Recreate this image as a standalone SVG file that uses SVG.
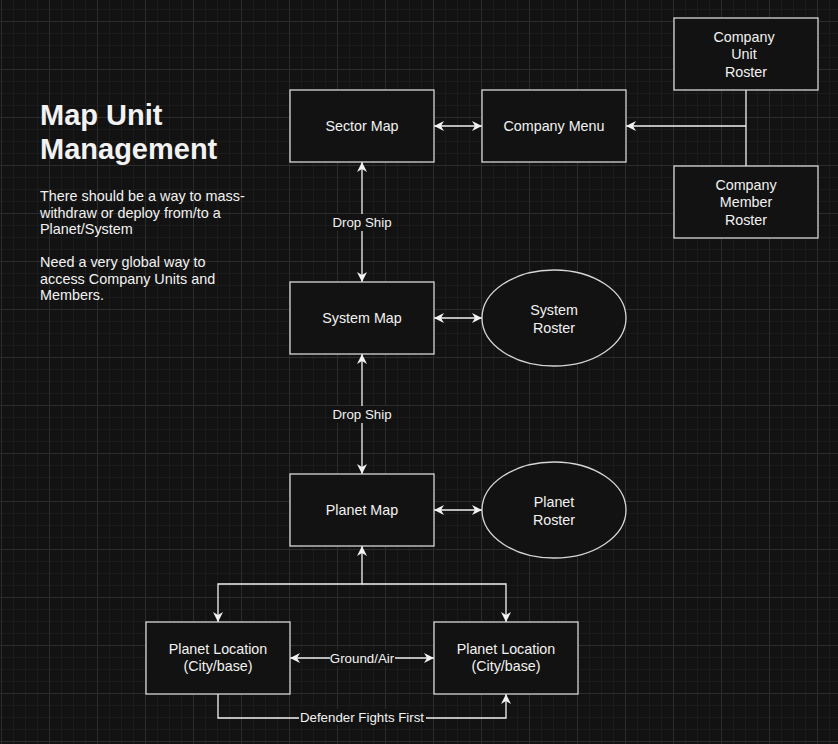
<svg xmlns="http://www.w3.org/2000/svg" width="838" height="744" viewBox="0 0 838 744">
<style>
.node rect, .node ellipse { fill:#121212; stroke:#d6d6d6; stroke-width:1.3; }
.node text { fill:#f2f2f2; font-family:"Liberation Sans", Arial, sans-serif; font-size:14.3px; text-anchor:middle; }
.edge { fill:none; stroke:#f2f2f2; stroke-width:1.3; }
.lbl rect { fill:#121212; }
.lbl text { fill:#f2f2f2; font-family:"Liberation Sans", Arial, sans-serif; font-size:13.3px; text-anchor:middle; }
.note { fill:#f2f2f2; font-family:"Liberation Sans", Arial, sans-serif; }
</style>
<defs>
<pattern id="minor" x="1" y="21" width="12" height="12" patternUnits="userSpaceOnUse">
<rect x="0" y="0" width="12" height="1" fill="#1b1b1b"/>
<rect x="0" y="0" width="1" height="12" fill="#1b1b1b"/>
</pattern>
<pattern id="major" x="1" y="21" width="48" height="48" patternUnits="userSpaceOnUse">
<rect x="0" y="0" width="48" height="1" fill="#2c2c2c"/>
<rect x="0" y="0" width="1" height="48" fill="#2c2c2c"/>
</pattern>
<marker id="arr" viewBox="-11 -6 12 12" refX="0" refY="0" markerWidth="12" markerHeight="12" markerUnits="userSpaceOnUse" orient="auto-start-reverse">
<path d="M0,0 L-10,-5 L-7,0 L-10,5 Z" fill="#f2f2f2"/>
</marker>
</defs>
<rect width="838" height="744" fill="#121212"/>
<rect width="838" height="744" fill="url(#minor)"/>
<rect width="838" height="744" fill="url(#major)"/>

<g id="connectors">
<path class="edge" d="M434,126 H482" marker-start="url(#arr)" marker-end="url(#arr)"/>
<path class="edge" d="M746,90 V166"/>
<path class="edge" d="M746,126 H626" marker-end="url(#arr)"/>
<path class="edge" d="M362,162 V282" marker-start="url(#arr)" marker-end="url(#arr)"/>
<path class="edge" d="M362,354 V474" marker-start="url(#arr)" marker-end="url(#arr)"/>
<path class="edge" d="M434,318 H482" marker-start="url(#arr)" marker-end="url(#arr)"/>
<path class="edge" d="M434,510 H482" marker-start="url(#arr)" marker-end="url(#arr)"/>
<path class="edge" d="M218,622 V584 H362 V546" marker-start="url(#arr)" marker-end="url(#arr)"/>
<path class="edge" d="M506,622 V584 H362" marker-start="url(#arr)"/>
<path class="edge" d="M290,658 H434" marker-start="url(#arr)" marker-end="url(#arr)"/>
<path class="edge" d="M218,694 V718 H506 V694" marker-end="url(#arr)"/>
<g class="lbl">
<rect x="332" y="214" width="60" height="17"/>
<text x="362" y="226.5">Drop Ship</text>
<rect x="332" y="406" width="60" height="17"/>
<text x="362" y="418.5">Drop Ship</text>
<rect x="330" y="650" width="65" height="16"/>
<text x="362" y="662.5">Ground/Air</text>
<rect x="299" y="709" width="127" height="16"/>
<text x="362" y="721.5">Defender Fights First</text>
</g>
</g>

<g id="sector-map" class="node">
<rect x="290" y="90" width="144" height="72"/>
<text x="362" y="131">Sector Map</text>
</g>
<g id="company-menu" class="node">
<rect x="482" y="90" width="144" height="72"/>
<text x="554" y="131">Company Menu</text>
</g>
<g id="company-unit-roster" class="node">
<rect x="674" y="18" width="144" height="72"/>
<text x="744" y="42">Company</text>
<text x="744" y="59">Unit</text>
<text x="746" y="76.5">Roster</text>
</g>
<g id="company-member-roster" class="node">
<rect x="674" y="166" width="144" height="72"/>
<text x="746" y="190">Company</text>
<text x="746" y="207">Member</text>
<text x="746" y="224.5">Roster</text>
</g>
<g id="system-map" class="node">
<rect x="290" y="282" width="144" height="72"/>
<text x="362" y="323">System Map</text>
</g>
<g id="system-roster" class="node">
<ellipse cx="554" cy="318" rx="72" ry="48"/>
<text x="554" y="315">System</text>
<text x="554" y="332.5">Roster</text>
</g>
<g id="planet-map" class="node">
<rect x="290" y="474" width="144" height="72"/>
<text x="362" y="515">Planet Map</text>
</g>
<g id="planet-roster" class="node">
<ellipse cx="554" cy="510" rx="72" ry="48"/>
<text x="554" y="507">Planet</text>
<text x="554" y="524.5">Roster</text>
</g>
<g id="planet-location-1" class="node">
<rect x="146" y="622" width="144" height="72"/>
<text x="218" y="654">Planet Location</text>
<text x="218" y="671">(City/base)</text>
</g>
<g id="planet-location-2" class="node">
<rect x="434" y="622" width="144" height="72"/>
<text x="506" y="654">Planet Location</text>
<text x="506" y="671">(City/base)</text>
</g>

<g id="notes">
<text class="note" x="40" y="125" font-size="29" font-weight="bold">Map Unit</text>
<text class="note" x="40" y="159" font-size="29" font-weight="bold">Management</text>
<text class="note" font-size="14.4">
<tspan x="40" y="201">There should be a way to mass-</tspan>
<tspan x="40" y="217.5">withdraw or deploy from/to a</tspan>
<tspan x="40" y="234">Planet/System</tspan>
<tspan x="40" y="267">Need a very global way to</tspan>
<tspan x="40" y="283.5">access Company Units and</tspan>
<tspan x="40" y="300">Members.</tspan>
</text>
</g>
</svg>
